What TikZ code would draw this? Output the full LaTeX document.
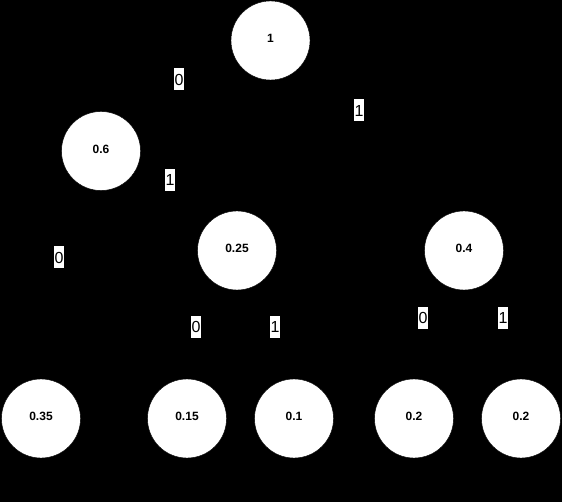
\documentclass[tikz,border=0pt]{standalone}
\usepackage{fontspec}
\setmainfont{Liberation Sans}
\newcommand{\upt}[1]{\raisebox{2pt}[\height][\depth]{#1}}
\begin{document}
\begin{tikzpicture}[x=1pt,y=-1pt,
  tnode/.style={circle,fill=white,draw=black,minimum size=79pt,inner sep=0pt,font=\fontsize{12}{14}\selectfont\bfseries},
  edge/.style={draw=black,line width=1pt},
  elabel/.style={fill=white,inner sep=0pt,minimum width=10pt,minimum height=22pt,font=\fontsize{16}{18}\selectfont}]
\fill[black] (0,0) rectangle (562,502);
\useasboundingbox (0,0) rectangle (562,502);
\node[tnode] (r) at (270.5,40.5) {\upt{1}};
\node[tnode] (a) at (101,151) {\upt{0.6}};
\node[tnode] (b) at (237,250.5) {\upt{0.25}};
\node[tnode] (c) at (464,250.5) {\upt{0.4}};
\node[tnode] (l1) at (41,418.5) {\upt{0.35}};
\node[tnode] (l2) at (187,418.5) {\upt{0.15}};
\node[tnode] (l3) at (294,418.5) {\upt{0.1}};
\node[tnode] (l4) at (414,418.5) {\upt{0.2}};
\node[tnode] (l5) at (521,418.5) {\upt{0.2}};
\draw[edge] (r) -- (a);
\draw[edge] (r) -- (c);
\draw[edge] (a) -- (l1);
\draw[edge] (a) -- (b);
\draw[edge] (b) -- (l2);
\draw[edge] (b) -- (l3);
\draw[edge] (c) -- (l4);
\draw[edge] (c) -- (l5);
\node[elabel] (e1) at (179,79.5) {0};
\node[elabel] (e2) at (359,110.5) {1};
\node[elabel] (e3) at (170,180) {1};
\node[elabel] (e4) at (59,257.5) {0};
\node[elabel] (e5) at (196,327) {0};
\node[elabel] (e6) at (275,327) {1};
\node[elabel] (e7) at (423,318) {0};
\node[elabel] (e8) at (503,318) {1};
\end{tikzpicture}
\end{document}
